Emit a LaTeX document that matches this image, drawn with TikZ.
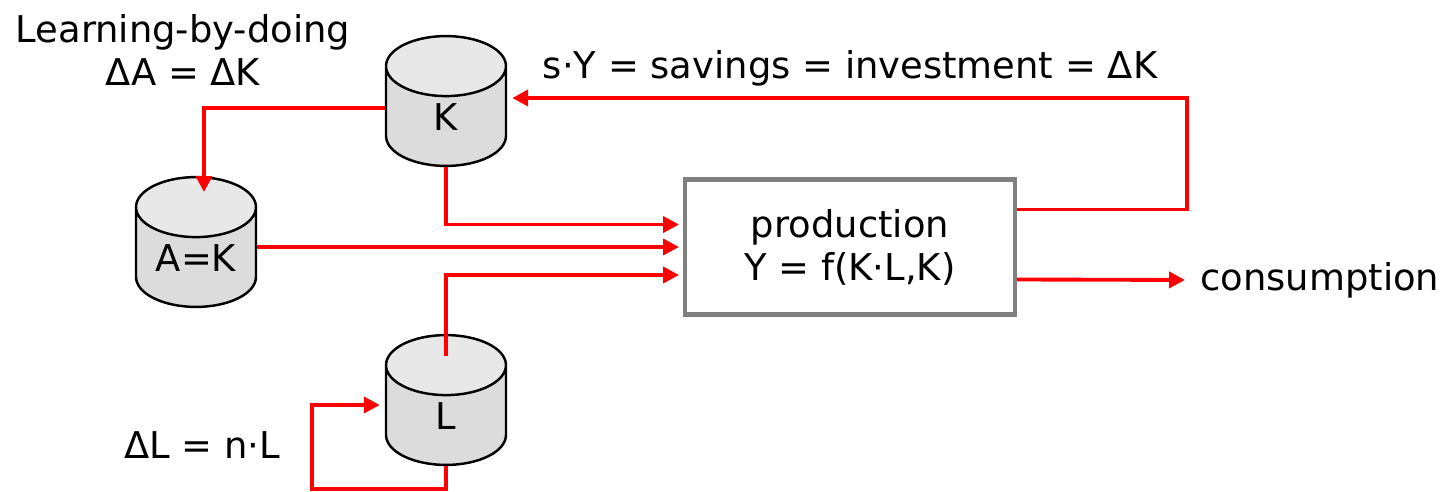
\documentclass[tikz,border=0pt]{standalone}
\usepackage{fontspec}
\setmainfont{DejaVu Sans}
\usepackage{xcolor}
\usetikzlibrary{arrows.meta, positioning, calc, shapes.geometric}
\definecolor{FlowRed}{HTML}{FF0000}
\definecolor{BoxGray}{HTML}{808080}
\definecolor{CylSide}{HTML}{DCDCDC}
\definecolor{CylTop}{HTML}{E8E8E8}

\begin{document}
\begin{tikzpicture}[
    x=0.02cm, y=-0.02cm,
    stock_cyl/.style={
        cylinder,
        shape border rotate=90,
        aspect=0.5,
        draw=black,
        line width=1.4pt,
        inner xsep=0pt,
        text width=2.4cm,
        align=center,
        minimum height=2.4cm,
        cylinder uses custom fill,
        cylinder body fill=CylSide,
        cylinder end fill=CylTop,
        anchor=shape center,
        font=\fontsize{21}{24.5}\selectfont
    },
    prod_box/.style={
        draw=BoxGray,
        line width=2.3pt,
        minimum width=6.6cm,
        minimum height=2.7cm,
        align=center,
        font=\fontsize{21}{24.5}\selectfont
    },
    note_text/.style={
        inner sep=0pt,
        align=center,
        font=\fontsize{21}{24.5}\selectfont
    },
    flow_line/.style={
        -{Triangle[length=0.32cm, width=0.32cm]},
        draw=FlowRed,
        line width=2.2pt,
        shorten >=0.08cm
    }
]
\useasboundingbox (0,0) rectangle (1445,491);

% =========================
% STOCKS
% =========================
\node[stock_cyl] (K) at (446,101) {K};
\node[stock_cyl] (A) at (196,242) {A=K};
\node[stock_cyl] (L) at (446,400) {L};

% =========================
% PRODUCTION
% =========================
\node[prod_box] (prod) at (850,247) {production\\Y = f(K·L,K)};

% =========================
% LABELS
% =========================
\node[note_text] (invest) at (850,68) {s·Y = savings = investment = ΔK};
\node[note_text] (learn) at (183,50) {Learning-by-doing\\ΔA = ΔK};
\node[note_text] (popgrow) at (202,445) {ΔL = n·L};
\node[note_text, anchor=west] (consum) at (1200,280) {consumption};

% =========================
% FLOWS
% =========================
\coordinate (invcorner) at (1187,98);
\coordinate (acorner) at (204,108);
\coordinate (atarget) at (204,192);
\coordinate (loopcorner) at (312,405);

\draw[flow_line, shorten >=0.1cm] ([yshift=0.75cm]prod.east) -| (invcorner)
    -- (invcorner -| K.east);
\draw[flow_line, shorten >=0pt] (K.west |- acorner) -| (atarget);
\draw[flow_line] (K.south) |- ([yshift=0.45cm]prod.west);
\draw[flow_line] (A.east |- prod.west) -- (prod.west);
\draw[flow_line] ([yshift=-0.44cm]L.north) |- ([yshift=-0.56cm]prod.west);
\draw[flow_line, shorten >=0.3cm] ([yshift=-0.65cm]prod.east) -- (consum.west);
\draw[flow_line, shorten >=0.1cm] (L.south) -- ++(0,23) -| (loopcorner)
    -- (loopcorner -| L.west);

\end{tikzpicture}
\end{document}
